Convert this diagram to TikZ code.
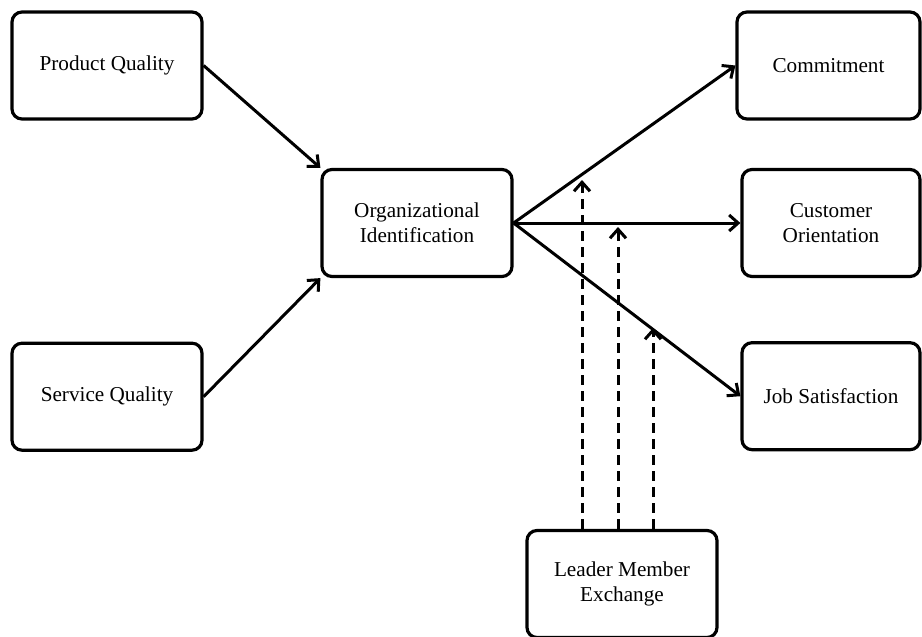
\documentclass[tikz,border=0pt]{standalone}
\usepackage{fontspec}
\setmainfont{Liberation Serif}
\usepackage{tikz}
\usetikzlibrary{arrows.meta, positioning}
\tikzstyle{block}     = [rectangle, rounded corners=5pt, draw=black, line width=1.6pt,
                         minimum width=95pt, minimum height=53.5pt, align=center,
                         inner sep=0pt, font=\fontsize{10.6}{12.6}\selectfont]
\tikzstyle{arrow}     = [-{Straight Barb[length=4.5pt,width=8pt]}, line width=1.5pt]
\tikzstyle{dasharrow} = [arrow, dash pattern=on 5pt off 3pt]

\begin{document}
\begin{tikzpicture}[x=1pt, y=1pt]
  \useasboundingbox (0,0) rectangle (461,-318.5);

  \node[block] (pq) at (53.5,-32.75) {Product Quality};
  \node[block, below=110.5pt of pq] (sq) {Service Quality};
  \node[block] (org) at (208.5,-111.5) {Organizational\\Identification};
  \node[block, minimum width=91.5pt] (com) at (414.25,-32.75) {Commitment};
  \node[block, minimum width=89pt] (cus) at (415.5,-111.5) {Customer\\Orientation};
  \node[block, minimum width=89pt, below=31.5pt of cus] (job) {Job Satisfaction};
  \node[block] (lmx) at (311,-292) {Leader Member\\Exchange};

  % moderation targets
  \coordinate (m1) at (291,-90);
  \coordinate (m2) at (309,-113.5);
  \coordinate (m3) at (326.5,-164);

  \draw[arrow] (pq.east) -- (org.north west);
  \draw[arrow] (sq.east) -- (org.south west);
  \draw[arrow] (org.east) -- (com.west);
  \draw[arrow] (org.east) -- (cus.west);
  \draw[arrow] (org.east) -- (job.west);

  \draw[dasharrow] (lmx.north -| m1) -- (m1);
  \draw[dasharrow] (lmx.north -| m2) -- (m2);
  \draw[dasharrow] (lmx.north -| m3) -- (m3);

\end{tikzpicture}
\end{document}
